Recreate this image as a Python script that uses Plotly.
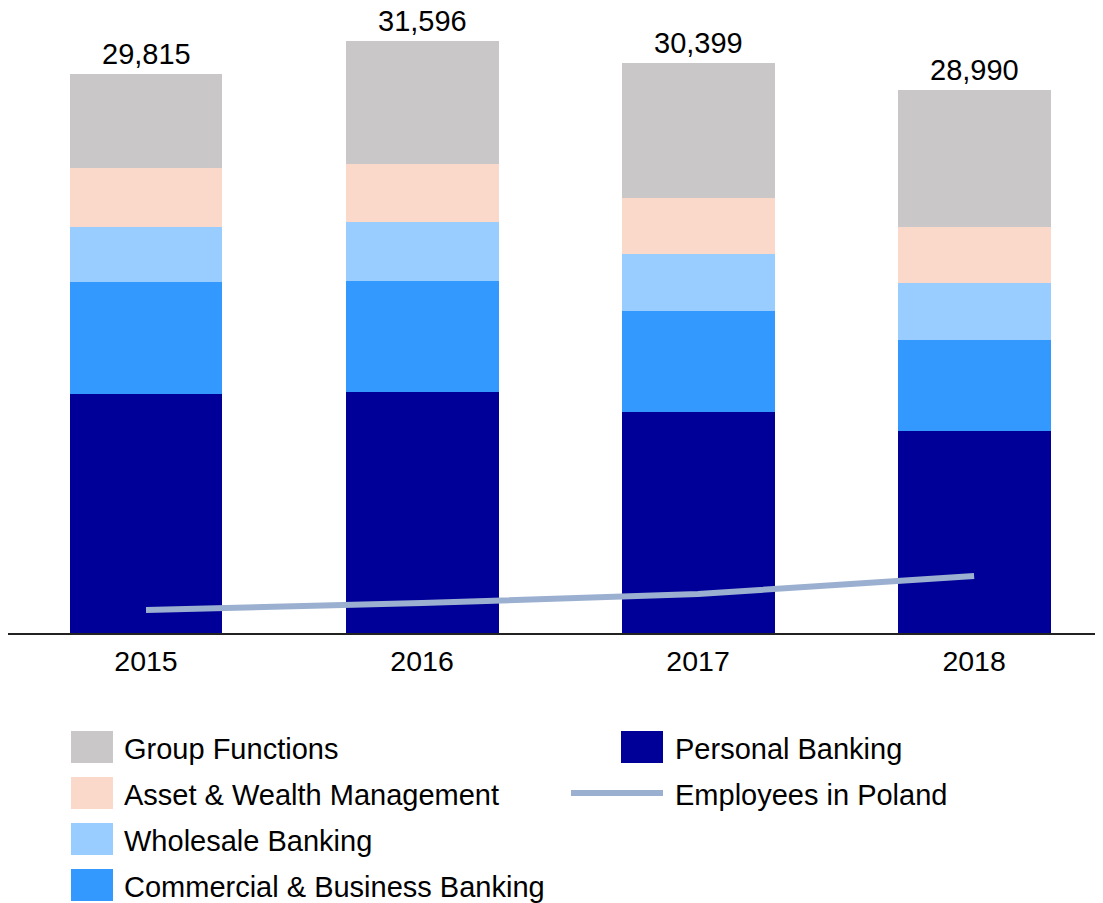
import plotly.graph_objects as go

years = ["2015", "2016", "2017", "2018"]
personal = [12750, 12857, 11790, 10777]
commercial = [5975, 5922, 5388, 4855]
wholesale = [2934, 3148, 3041, 3041]
asset = [3148, 3094, 2988, 2988]
group = [5008, 6575, 7192, 7329]
totals = [29815, 31596, 30399, 28990]
employees_pl = [1227, 1600, 2081, 3041]

series = [
    ("Personal Banking", personal, "#000099"),
    ("Commercial & Business Banking", commercial, "#3399FF"),
    ("Wholesale Banking", wholesale, "#99CCFF"),
    ("Asset & Wealth Management", asset, "#FAD9CB"),
    ("Group Functions", group, "#C9C7C8"),
]
line_color = "#9BB0D0"
FONT = "Liberation Sans, Arial, sans-serif"

# page body has an 8px offset; figure sized to fill the rest of the window
OFF = 8
W, H = 1103 - OFF, 903 - OFF
BASE = 633  # screen y of the baseline
ML, MR, MT = 0, 0, 0
MB = H - (BASE - OFF)
PW, PH = W - ML - MR, H - MT - MB

def px_x(sx):
    return (sx - OFF - ML) / PW

def px_y(sy):
    return (BASE - sy) / PH

fig = go.Figure()
for name, vals, col in series:
    fig.add_trace(go.Bar(x=years, y=vals, name=name, marker=dict(color=col, line=dict(width=0)),
                         width=0.554, showlegend=False))
fig.add_trace(go.Scatter(x=years, y=employees_pl, mode="lines", name="Employees in Poland",
                         line=dict(color=line_color, width=6), showlegend=False))

annotations = []
for i, t in enumerate(totals):
    annotations.append(dict(x=i, y=t, xref="x", yref="y", text=f"{t:,}", showarrow=False,
                            yanchor="bottom", yshift=2,
                            font=dict(size=29, color="black", family=FONT)))

shapes = []
legend_col1 = [("Group Functions", "#C9C7C8"), ("Asset & Wealth Management", "#FAD9CB"),
               ("Wholesale Banking", "#99CCFF"), ("Commercial & Business Banking", "#3399FF")]
rows = [747, 793, 839, 885]
for (lab, col), cy in zip(legend_col1, rows):
    shapes.append(dict(type="rect", xref="paper", yref="paper", x0=px_x(71), x1=px_x(113),
                       y0=px_y(cy - 16), y1=px_y(cy + 16), fillcolor=col, line=dict(width=0)))
    annotations.append(dict(xref="paper", yref="paper", x=px_x(122), y=px_y(cy + 2), text=lab,
                            showarrow=False, xanchor="left", yanchor="middle",
                            font=dict(size=29, color="black", family=FONT)))
shapes.append(dict(type="rect", xref="paper", yref="paper", x0=px_x(621), x1=px_x(663),
                   y0=px_y(rows[0] - 16), y1=px_y(rows[0] + 16), fillcolor="#000099", line=dict(width=0)))
annotations.append(dict(xref="paper", yref="paper", x=px_x(673), y=px_y(rows[0] + 2), text="Personal Banking",
                        showarrow=False, xanchor="left", yanchor="middle",
                        font=dict(size=29, color="black", family=FONT)))
shapes.append(dict(type="line", xref="paper", yref="paper", x0=px_x(571), x1=px_x(663),
                   y0=px_y(rows[1]), y1=px_y(rows[1]), line=dict(color=line_color, width=6)))
annotations.append(dict(xref="paper", yref="paper", x=px_x(673), y=px_y(rows[1] + 2), text="Employees in Poland",
                        showarrow=False, xanchor="left", yanchor="middle",
                        font=dict(size=29, color="black", family=FONT)))

units_per_px = 53.36
fig.update_layout(
    width=W, height=H, margin=dict(l=ML, r=MR, t=MT, b=MB, pad=0),
    barmode="stack", plot_bgcolor="white", paper_bgcolor="white",
    font=dict(family=FONT, size=29, color="black"),
    annotations=annotations, shapes=shapes, showlegend=False,
    xaxis=dict(type="category", range=[-0.5, 3.467], showline=True, linecolor="#222222", linewidth=2,
               ticks="", showgrid=False, zeroline=False, ticklabelstandoff=2,
               tickfont=dict(size=28.5, family=FONT)),
    yaxis=dict(range=[0, PH * units_per_px], visible=False, showgrid=False, zeroline=False),
)
fig.write_html("out.html")
